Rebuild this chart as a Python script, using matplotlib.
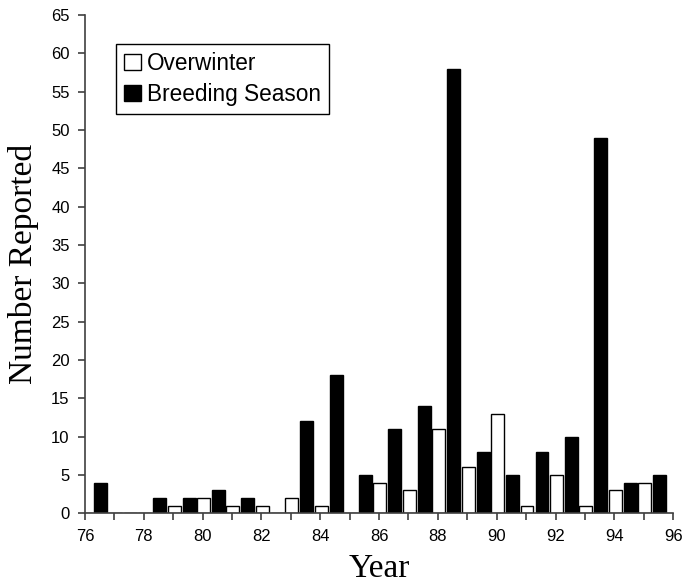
import matplotlib
matplotlib.use("Agg")
import matplotlib.pyplot as plt
from matplotlib.ticker import MultipleLocator
import numpy as np

# season data
years = list(range(76, 96))
overwinter = [0, 0, 0, 1, 2, 1, 1, 2, 1, 0, 4, 3, 11, 6, 13, 1, 5, 1, 3, 4]
breeding = [4, 0, 2, 2, 3, 2, 0, 12, 18, 5, 11, 14, 58, 8, 5, 8, 10, 49, 4, 5]

fig = plt.figure(figsize=(6.82, 5.79), dpi=100)
ax = fig.add_axes([0.1246, 0.1135, 0.8624, 0.8605])

x = np.array(years, dtype=float)
ax.bar(x + 0.03, overwinter, width=0.44, color="white", edgecolor="black",
       linewidth=1, label="Overwinter")
ax.bar(x + 0.54, breeding, width=0.44, color="black", edgecolor="black",
       linewidth=1, label="Breeding Season")

ax.set_xlim(76, 96)
ax.set_ylim(0, 65)
ax.xaxis.set_major_locator(MultipleLocator(2))
ax.xaxis.set_minor_locator(MultipleLocator(1))
ax.yaxis.set_major_locator(MultipleLocator(5))

for s in ("top", "right"):
    ax.spines[s].set_visible(False)
for s in ("left", "bottom"):
    ax.spines[s].set_color("#404040")
    ax.spines[s].set_linewidth(1.2)

ax.tick_params(axis="both", which="both", direction="out", color="#404040",
               width=1.2)
ax.tick_params(axis="both", which="major", length=5, labelsize=12, pad=6)
ax.tick_params(axis="x", which="minor", length=5)
for lab in ax.get_xticklabels() + ax.get_yticklabels():
    lab.set_family("Liberation Sans")

ax.set_xlabel("Year", family="Liberation Serif", fontsize=24, labelpad=7)
ax.set_ylabel("Number Reported", family="Liberation Serif", fontsize=24,
              labelpad=9)

leg = ax.legend(loc="upper left", bbox_to_anchor=(0.053, 0.942),
                borderaxespad=0, fancybox=False, framealpha=1,
                prop={"family": "Liberation Sans", "size": 16.3},
                handlelength=0.75, handleheight=0.7, handletextpad=0.25,
                labelspacing=0.35, borderpad=0.35)
leg.get_frame().set_edgecolor("black")
leg.get_frame().set_linewidth(1)

fig.savefig("out.png", dpi=100)
